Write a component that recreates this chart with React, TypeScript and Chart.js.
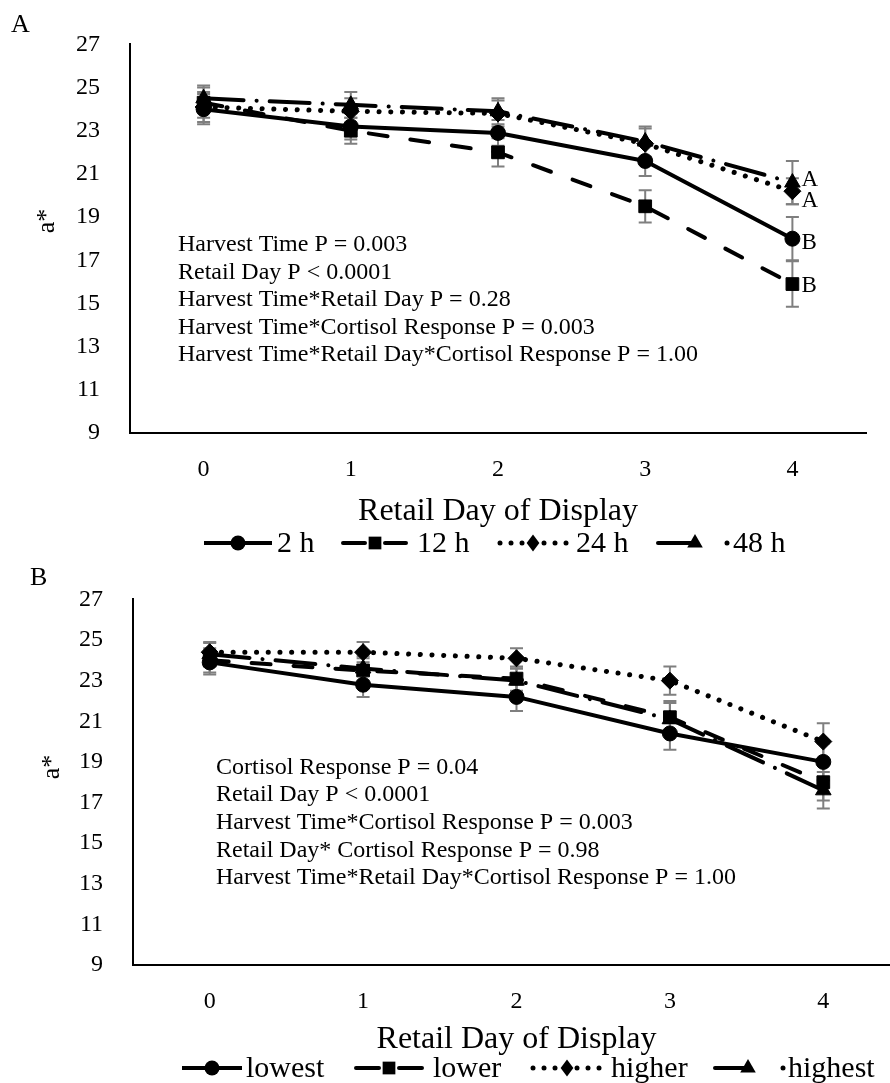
import React, { useEffect, useRef } from 'react';
import { Chart, registerables } from 'chart.js';

Chart.register(...registerables);

const FONT = "'Liberation Serif', 'Times New Roman', Times, serif";

// ---------- shared ----------
const days = ['0', '1', '2', '3', '4'];
const yMin = 9;
const yMax = 27;
const yStep = 2;
const xTitle = 'Retail Day of Display';
const yTitle = 'a*';

// ---------- Panel A : harvest time ----------
const harvestLabels = ['2 h', '12 h', '24 h', '48 h'];
const a2h = [24.0, 23.2, 22.9, 21.6, 18.0];
const a12h = [24.3, 23.0, 22.0, 19.5, 15.9];
const a24h = [24.1, 23.9, 23.8, 22.4, 20.2];
const a48h = [24.5, 24.2, 23.9, 22.5, 20.6];
const a2hErr = [0.7, 0.6, 0.6, 0.7, 1.0];
const a12hErr = [0.7, 0.6, 0.65, 0.75, 1.05];
const a24hErr = [0.7, 0.6, 0.6, 0.7, 0.6];
const a48hErr = [0.6, 0.6, 0.6, 0.7, 1.0];
const aDay4Letters = ['B', 'B', 'A', 'A'];
const aStats = [
  'Harvest Time P = 0.003',
  'Retail Day P < 0.0001',
  'Harvest Time*Retail Day P = 0.28',
  'Harvest Time*Cortisol Response P = 0.003',
  'Harvest Time*Retail Day*Cortisol Response P = 1.00',
];

// ---------- Panel B : cortisol response ----------
const cortisolLabels = ['lowest', 'lower', 'higher', 'highest'];
const bLowest = [23.9, 22.8, 22.2, 20.4, 19.0];
const bLower = [24.0, 23.5, 23.1, 21.2, 18.0];
const bHigher = [24.4, 24.4, 24.1, 23.0, 20.0];
const bHighest = [24.3, 23.6, 23.0, 21.1, 17.6];
const bLowestErr = [0.6, 0.6, 0.7, 0.8, 0.9];
const bLowerErr = [0.6, 0.6, 0.6, 0.8, 0.9];
const bHigherErr = [0.45, 0.5, 0.5, 0.7, 0.9];
const bHighestErr = [0.6, 0.6, 0.6, 0.8, 0.9];
const bStats = [
  'Cortisol Response P = 0.04',
  'Retail Day P < 0.0001',
  'Harvest Time*Cortisol Response P = 0.003',
  'Retail Day* Cortisol Response P = 0.98',
  'Harvest Time*Retail Day*Cortisol Response P = 1.00',
];

type Style = 'solid' | 'dash' | 'dot' | 'dashdot';
const styles: Style[] = ['solid', 'dash', 'dot', 'dashdot'];
const pointStyles = ['circle', 'rect', 'rectRot', 'triangle'];
const pointRadii = [7.5, 9, 8.5, 9];

function dashOf(s: Style): number[] {
  if (s === 'dash') return [19, 23];
  if (s === 'dot') return [0.1, 11.6];
  if (s === 'dashdot') return [40, 13, 0.1, 13];
  return [];
}

function drawMarker(ctx: CanvasRenderingContext2D, kind: string, x: number, y: number, r: number) {
  ctx.beginPath();
  if (kind === 'circle') {
    ctx.arc(x, y, r, 0, Math.PI * 2);
  } else if (kind === 'rect') {
    const h = r * Math.SQRT1_2;
    ctx.rect(x - h, y - h, 2 * h, 2 * h);
  } else if (kind === 'rectRot') {
    ctx.moveTo(x, y - r);
    ctx.lineTo(x + r * 0.75, y);
    ctx.lineTo(x, y + r);
    ctx.lineTo(x - r * 0.75, y);
    ctx.closePath();
  } else {
    const a = (2 * Math.PI) / 3;
    ctx.moveTo(x, y - r);
    ctx.lineTo(x + Math.sin(a) * r, y - Math.cos(a) * r);
    ctx.lineTo(x + Math.sin(2 * a) * r, y - Math.cos(2 * a) * r);
    ctx.closePath();
  }
  ctx.fill();
}

function makeDatasets(labels: string[], series: number[][]) {
  return series.map((data, i) => ({
    label: labels[i],
    data,
    borderColor: '#000',
    backgroundColor: '#000',
    borderWidth: styles[i] === 'dot' ? 5 : 4,
    borderDash: dashOf(styles[i]),
    borderCapStyle: styles[i] === 'solid' ? 'butt' : 'round',
    borderJoinStyle: 'round',
    pointStyle: pointStyles[i],
    pointRadius: pointRadii[i],
    pointBackgroundColor: '#000',
    pointBorderColor: '#000',
    pointBorderWidth: 1,
    pointHoverRadius: pointRadii[i],
    fill: false,
    tension: 0,
  }));
}

function errorBarPlugin(errs: number[][]) {
  return {
    id: 'errorBars',
    beforeDatasetsDraw(chart: any) {
      const ctx = chart.ctx as CanvasRenderingContext2D;
      const ys = chart.scales.y;
      ctx.save();
      ctx.strokeStyle = '#7f7f7f';
      ctx.lineWidth = 2;
      chart.data.datasets.forEach((ds: any, i: number) => {
        const meta = chart.getDatasetMeta(i);
        meta.data.forEach((pt: any, j: number) => {
          const v = ds.data[j];
          const e = errs[i][j];
          const yt = ys.getPixelForValue(v + e);
          const yb = ys.getPixelForValue(v - e);
          const x = pt.x;
          ctx.beginPath();
          ctx.moveTo(x, yt);
          ctx.lineTo(x, yb);
          ctx.moveTo(x - 6.5, yt);
          ctx.lineTo(x + 6.5, yt);
          ctx.moveTo(x - 6.5, yb);
          ctx.lineTo(x + 6.5, yb);
          ctx.stroke();
        });
      });
      ctx.restore();
    },
  };
}

type LegendPos = { x0: number; x1: number; mx: number; tx: number };

function annotationPlugin(opts: {
  panel: string;
  panelXY: [number, number];
  yTitleXY: [number, number];
  stats: string[];
  statsX: number;
  statsY0: number;
  statsDy: number;
  labels: string[];
  legendY: number;
  legendPos: LegendPos[];
  letters?: string[];
  letterDy?: number[];
}) {
  return {
    id: 'annotations',
    afterDraw(chart: any) {
      const ctx = chart.ctx as CanvasRenderingContext2D;
      ctx.save();
      ctx.fillStyle = '#000';
      ctx.textBaseline = 'middle';
      ctx.textAlign = 'left';
      // panel letter
      ctx.font = `26px ${FONT}`;
      ctx.fillText(opts.panel, opts.panelXY[0], opts.panelXY[1]);
      // y axis title (rotated)
      ctx.save();
      ctx.translate(opts.yTitleXY[0], opts.yTitleXY[1]);
      ctx.rotate(-Math.PI / 2);
      ctx.textAlign = 'center';
      ctx.font = `26px ${FONT}`;
      ctx.fillText(yTitle, 0, 0);
      ctx.restore();
      // stats text
      ctx.font = `24px ${FONT}`;
      opts.stats.forEach((s, i) => ctx.fillText(s, opts.statsX, opts.statsY0 + i * opts.statsDy));
      // significance letters at the last day
      if (opts.letters) {
        ctx.font = `23px ${FONT}`;
        opts.letters.forEach((l, i) => {
          const meta = chart.getDatasetMeta(i);
          const pt = meta.data[meta.data.length - 1];
          ctx.fillText(l, pt.x + 9, pt.y + (opts.letterDy ? opts.letterDy[i] : 0));
        });
      }
      // legend
      const y = opts.legendY;
      opts.legendPos.forEach((p, i) => {
        const st = styles[i];
        ctx.strokeStyle = '#000';
        ctx.fillStyle = '#000';
        ctx.lineWidth = 4;
        if (st === 'solid') {
          ctx.setLineDash([]);
          ctx.lineCap = 'butt';
          ctx.beginPath();
          ctx.moveTo(p.x0, y);
          ctx.lineTo(p.x1, y);
          ctx.stroke();
        } else if (st === 'dash') {
          ctx.setLineDash([]);
          ctx.lineCap = 'round';
          ctx.beginPath();
          ctx.moveTo(p.x0, y);
          ctx.lineTo(p.mx - 10, y);
          ctx.moveTo(p.mx + 10, y);
          ctx.lineTo(p.x1, y);
          ctx.stroke();
        } else if (st === 'dot') {
          for (let x = p.x0; x <= p.x1 + 0.5; x += 11) {
            ctx.beginPath();
            ctx.arc(x, y, 2.5, 0, Math.PI * 2);
            ctx.fill();
          }
        } else {
          ctx.setLineDash([]);
          ctx.lineCap = 'round';
          ctx.beginPath();
          ctx.moveTo(p.x0, y);
          ctx.lineTo(p.mx, y);
          ctx.stroke();
          ctx.beginPath();
          ctx.arc(p.x1, y, 2.5, 0, Math.PI * 2);
          ctx.fill();
        }
        drawMarker(ctx, pointStyles[i], p.mx, y, pointRadii[i]);
        ctx.font = `30px ${FONT}`;
        ctx.fillText(opts.labels[i], p.tx, y + 1);
      });
      ctx.restore();
    },
  };
}

function makeConfig(p: {
  labels: string[];
  series: number[][];
  errs: number[][];
  padTop: number;
  padRight: number;
  yWidth: number;
  xHeight: number;
  xTitlePad: number;
  annot: any;
}) {
  return {
    type: 'line',
    data: { labels: days, datasets: makeDatasets(p.labels, p.series) },
    options: {
      animation: false,
      responsive: false,
      maintainAspectRatio: false,
      events: [],
      layout: { padding: { top: p.padTop, right: p.padRight, left: 0, bottom: 0 } },
      plugins: { legend: { display: false }, tooltip: { enabled: false }, title: { display: false } },
      scales: {
        x: {
          type: 'category',
          offset: true,
          grid: { display: false, drawTicks: false },
          border: { display: true, color: '#000', width: 2 },
          ticks: { color: '#000', font: { family: FONT, size: 24 }, padding: 22, maxRotation: 0, autoSkip: false },
          title: {
            display: true,
            text: xTitle,
            color: '#000',
            font: { family: FONT, size: 32 },
            padding: { top: 0, bottom: p.xTitlePad },
          },
          afterFit: (s: any) => {
            s.height = p.xHeight;
          },
        },
        y: {
          type: 'linear',
          min: yMin,
          max: yMax,
          grid: { display: false, drawTicks: false },
          border: { display: true, color: '#000', width: 2 },
          ticks: { stepSize: yStep, color: '#000', font: { family: FONT, size: 24 }, padding: 30 },
          title: { display: false },
          afterFit: (s: any) => {
            s.width = p.yWidth;
          },
        },
      },
    },
    plugins: [errorBarPlugin(p.errs), annotationPlugin(p.annot)],
  };
}

function ChartCanvas({ config, width, height }: { config: any; width: number; height: number }) {
  const ref = useRef<HTMLCanvasElement | null>(null);
  useEffect(() => {
    if (!ref.current) return;
    const chart = new Chart(ref.current, config);
    return () => chart.destroy();
  }, [config]);
  return <canvas ref={ref} width={width} height={height} style={{ display: 'block', width, height }} />;
}

const configA = makeConfig({
  labels: harvestLabels,
  series: [a2h, a12h, a24h, a48h],
  errs: [a2hErr, a12hErr, a24hErr, a48hErr],
  padTop: 30,
  padRight: 24,
  yWidth: 130,
  xHeight: 122,
  xTitlePad: 24,
  annot: {
    panel: 'A',
    panelXY: [11, 25],
    yTitleXY: [47, 221],
    stats: aStats,
    statsX: 178,
    statsY0: 245,
    statsDy: 27.5,
    labels: harvestLabels,
    legendY: 543,
    legendPos: [
      { x0: 204, x1: 272, mx: 238, tx: 277 },
      { x0: 343, x1: 406, mx: 375, tx: 417 },
      { x0: 500, x1: 566, mx: 533, tx: 576 },
      { x0: 658, x1: 727, mx: 695, tx: 733 },
    ],
    letters: aDay4Letters,
    letterDy: [4, 2, 10, -3],
  },
});

const configB = makeConfig({
  labels: cortisolLabels,
  series: [bLowest, bLower, bHigher, bHighest],
  errs: [bLowestErr, bLowerErr, bHigherErr, bHighestErr],
  padTop: 32,
  padRight: 10,
  yWidth: 133,
  xHeight: 118,
  xTitlePad: 24,
  annot: {
    panel: 'B',
    panelXY: [30, 23],
    yTitleXY: [52, 212],
    stats: bStats,
    statsX: 216,
    statsY0: 212.5,
    statsDy: 27.6,
    labels: cortisolLabels,
    legendY: 513,
    legendPos: [
      { x0: 182, x1: 242, mx: 212, tx: 246 },
      { x0: 356, x1: 422, mx: 389, tx: 433 },
      { x0: 533, x1: 600, mx: 567, tx: 611 },
      { x0: 715, x1: 783, mx: 748, tx: 788 },
    ],
  },
});

export default function App() {
  return (
    <div
      style={{
        position: 'absolute',
        left: 0,
        top: 0,
        width: 890,
        height: 1083,
        overflow: 'hidden',
        background: '#fff',
      }}
    >
      <div style={{ position: 'absolute', left: 0, top: 0 }}>
        <ChartCanvas config={configA} width={890} height={555} />
      </div>
      <div style={{ position: 'absolute', left: 0, top: 555 }}>
        <ChartCanvas config={configB} width={910} height={528} />
      </div>
    </div>
  );
}
